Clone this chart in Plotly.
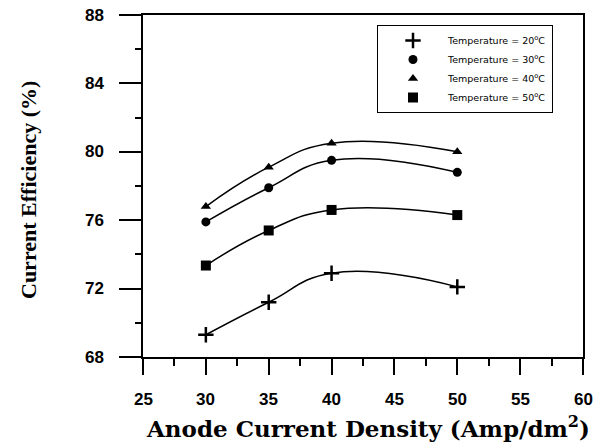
import plotly.graph_objects as go

density = [30, 35, 40, 50]
eff_20 = [69.3, 71.2, 72.9, 72.1]
eff_30 = [75.9, 77.9, 79.5, 78.8]
eff_40 = [76.8, 79.1, 80.5, 80.0]
eff_50 = [73.35, 75.4, 76.6, 76.3]

x_ticks = [25, 30, 35, 40, 45, 50, 55, 60]
y_ticks = [68, 72, 76, 80, 84, 88]

labels = ["Temperature = 20<sup>o</sup>C", "Temperature = 30<sup>o</sup>C",
          "Temperature = 40<sup>o</sup>C", "Temperature = 50<sup>o</sup>C"]
series = [eff_20, eff_30, eff_40, eff_50]
symbols = ["cross-thin", "circle", "triangle-up", "square"]
msizes = [11, 9, 9, 10]

L, R, T, B = 143, 583, 15, 357   # plot area in pixels
PW, PH = R - L, B - T

fig = go.Figure()
for y, sym, ms in zip(series, symbols, msizes):
    mline = dict(width=2.5, color="black") if sym == "cross-thin" else dict(width=0)
    fig.add_trace(go.Scatter(
        x=density, y=y, mode="lines+markers", showlegend=False,
        line=dict(color="black", width=1.5, shape="spline", smoothing=1.3),
        marker=dict(symbol=sym, size=ms, color="black", line=mline)))
for sym, ms, lab in zip(symbols, msizes, labels):
    mline = dict(width=2.5, color="black") if sym == "cross-thin" else dict(width=0)
    fig.add_trace(go.Scatter(
        x=[None], y=[None], mode="markers", name=lab,
        marker=dict(symbol=sym, size=ms, color="black", line=mline)))

tickfont = dict(size=17, family="Liberation Sans", weight="bold", color="black")

# tick labels placed through the axes' scales, set off from the long tick marks
annotations = [dict(text=str(v), x=v, xref="x", y=0, yref="paper",
                    xanchor="center", yanchor="top", yshift=-31,
                    showarrow=False, font=tickfont) for v in x_ticks]
annotations += [dict(text=str(v), y=v, yref="y", x=0, xref="paper",
                     xanchor="right", yanchor="middle", xshift=-37,
                     showarrow=False, font=tickfont) for v in y_ticks]
annotations += [
    dict(text="Anode Current Density (Amp/dm<sup>2</sup>)",
         xref="paper", yref="paper", x=(368 - L) / PW, y=(B - 427) / PH,
         xanchor="center", yanchor="middle", showarrow=False,
         font=dict(size=23, family="DejaVu Serif", weight="bold")),
    dict(text="Current Efficiency (%)", textangle=-90,
         xref="paper", yref="paper", x=(28 - L) / PW, y=(B - 190) / PH,
         xanchor="center", yanchor="middle", showarrow=False,
         font=dict(size=22, family="Liberation Serif", weight="bold")),
]

fig.update_layout(
    width=614, height=444,
    margin=dict(l=L, r=614 - R, t=T, b=444 - B),
    plot_bgcolor="white", paper_bgcolor="white",
    font=dict(family="Liberation Sans", color="black"),
    legend=dict(x=(377 - L) / PW, y=1 - 10 / PH, xanchor="left", yanchor="top",
                bordercolor="black", borderwidth=1, bgcolor="white",
                font=dict(size=9.5, family="DejaVu Sans"),
                tracegroupgap=0, itemwidth=60),
    xaxis=dict(range=[25, 60], tickvals=x_ticks,
               ticks="outside", ticklen=16, tickwidth=1.5, tickcolor="black",
               minor=dict(dtick=2.5, ticks="outside", ticklen=7, tickwidth=1.5,
                          tickcolor="black"),
               showticklabels=False,
               showline=True, linecolor="black", linewidth=1.5, mirror=True,
               showgrid=False, zeroline=False),
    yaxis=dict(range=[68, 88], tickvals=y_ticks,
               ticks="outside", ticklen=22, tickwidth=1.5, tickcolor="black",
               minor=dict(dtick=2, ticks="outside", ticklen=6, tickwidth=1.5,
                          tickcolor="black"),
               showticklabels=False,
               showline=True, linecolor="black", linewidth=1.5, mirror=True,
               showgrid=False, zeroline=False),
    annotations=annotations,
)

fig.write_html("out.html")
